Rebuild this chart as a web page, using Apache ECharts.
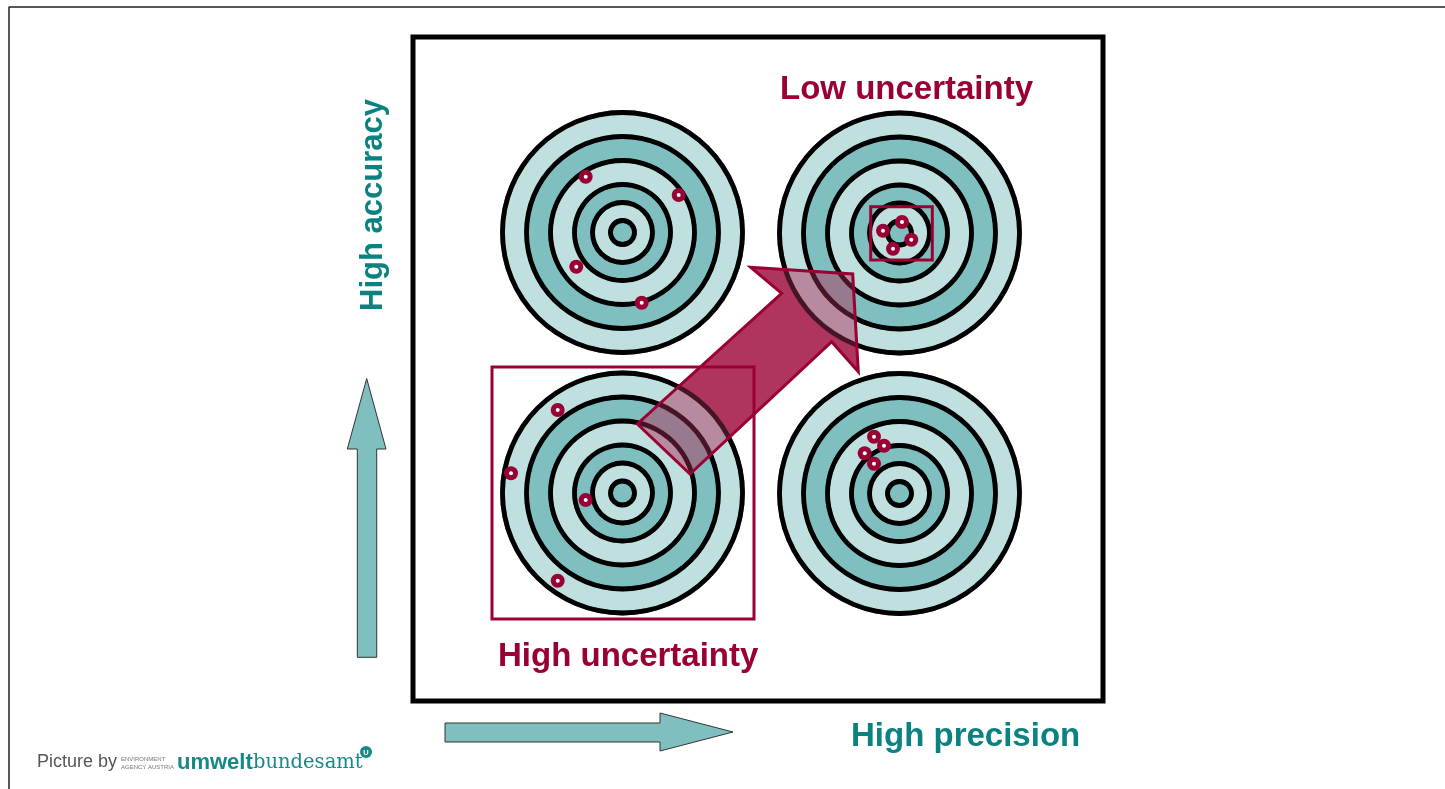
<!DOCTYPE html>
<html><head><meta charset="utf-8">
<script src="https://cdn.jsdelivr.net/npm/echarts/dist/echarts.min.js"></script>
<style>html,body{margin:0;padding:0;background:#fff}#c{width:1445px;height:789px}</style>
</head><body><div id="c"></div>
<script>
// ---- data (diagram coordinates in a 1445 x 789 value space) ----
const targetCenters = [[622.5, 232.5], [899.5, 233], [622.5, 493], [899.5, 493.5]];
const ringRadii = [120, 96, 72, 48, 30, 12];
const bandColors = ['#c0e0df', '#80bfbf', '#c0e0df', '#80bfbf', '#c0e0df', '#80bfbf'];
const hitsTopLeft = [[585.7, 176.7], [678.7, 195], [576.3, 266.7], [641.7, 302.7]];
const hitsTopRight = [[902, 222], [883, 230.7], [911.3, 239.7], [893, 248.7]];
const hitsBottomLeft = [[557.7, 410], [511, 473.3], [585.7, 500], [557.7, 580.7]];
const hitsBottomRight = [[874, 436.7], [884, 445.7], [864.7, 453.3], [874, 463.7]];
const uncertaintyBoxes = [[[870.7, 206.7], [932.3, 260]], [[492, 367], [754, 619]]];
const frameBox = [[413, 37], [1103, 701]];
const pageBorder = [[9, 789], [9, 7], [1445, 7]];
const bigArrow = [[637.3, 424], [690, 474], [831.7, 341.7], [858.3, 371.7], [852.7, 274], [750.7, 267.3], [781.7, 293.3]];
const upArrow = [[366.7, 378.5], [386, 449], [376.7, 449], [376.7, 657.3], [357.3, 657.3], [357.3, 449], [347.3, 449]];
const rightArrow = [[445, 723], [660, 723], [660, 713], [733, 732], [660, 751], [660, 742], [445, 742]];
const labels = {
  low: 'Low uncertainty', high: 'High uncertainty',
  precision: 'High precision', accuracy: 'High accuracy'
};

const CRIMSON = '#990033';
const TEAL_TEXT = '#0a8282';
const RING_W = 4.8;

const chart = echarts.init(document.getElementById('c'), null, {renderer: 'canvas'});

function px(api, r) { return api.size([r, 0])[0]; }

function targetRender(alphaBand, alphaLine, exact) {
  return function (params, api) {
    const c = api.coord([api.value(0), api.value(1)]);
    const half = RING_W / 2;
    const children = [];
    for (let i = 0; i < ringRadii.length; i++) {
      const R = px(api, ringRadii[i]);
      const Rn = i + 1 < ringRadii.length ? px(api, ringRadii[i + 1]) : 0;
      const rOut = exact ? R - half : R;
      const rIn = exact ? (Rn > 0 ? Rn + half : 0) : 0;
      children.push({type: 'ring', shape: {cx: c[0], cy: c[1], r: rOut, r0: rIn},
        style: {fill: bandColors[i], opacity: alphaBand}});
    }
    for (let i = 0; i < ringRadii.length; i++) {
      const R = px(api, ringRadii[i]);
      children.push({type: 'ring', shape: {cx: c[0], cy: c[1], r: R + half, r0: R - half},
        style: {fill: '#000', opacity: alphaLine}});
    }
    return {type: 'group', children};
  };
}

function polyRender(points, style) {
  return function (params, api) {
    return {type: 'polygon', shape: {points: points.map(p => api.coord(p))}, style};
  };
}

const allHits = hitsTopLeft.concat(hitsTopRight, hitsBottomLeft, hitsBottomRight);

const option = {
  animation: false,
  grid: {left: 0, right: 0, top: 0, bottom: 0},
  xAxis: {type: 'value', min: 0, max: 1445, show: false},
  yAxis: {type: 'value', min: 0, max: 789, inverse: true, show: false},
  series: [
    { // page border
      type: 'line', data: pageBorder, symbol: 'none', z: 1,
      lineStyle: {color: '#222', width: 1.5}
    },
    { // frame
      type: 'custom', z: 1, data: [[0, 0]],
      renderItem: function (params, api) {
        const a = api.coord(frameBox[0]), b = api.coord(frameBox[1]);
        return {type: 'rect', shape: {x: a[0], y: a[1], width: b[0] - a[0], height: b[1] - a[1]},
          style: {fill: 'none', stroke: '#000', lineWidth: 5}};
      }
    },
    { // teal arrows
      type: 'custom', z: 2, data: [[0, 0]],
      renderItem: function (params, api) {
        return {type: 'group', children: [
          polyRender(upArrow, {fill: '#80bfbf', stroke: '#333', lineWidth: 1})(params, api),
          polyRender(rightArrow, {fill: '#80bfbf', stroke: '#333', lineWidth: 1})(params, api)
        ]};
      }
    },
    { // targets (opaque)
      type: 'custom', z: 3, data: targetCenters, encode: {x: 0, y: 1},
      renderItem: targetRender(1, 1, false)
    },
    { // big arrow fill
      type: 'custom', z: 4, data: [[0, 0]],
      renderItem: polyRender(bigArrow, {fill: '#b0355e'})
    },
    { // targets again, translucent, so the arrow shows through them
      type: 'custom', z: 5, data: targetCenters, encode: {x: 0, y: 1},
      renderItem: targetRender(0.5, 0.6, true)
    },
    { // big arrow outline
      type: 'custom', z: 6, data: [[0, 0]],
      renderItem: polyRender(bigArrow, {fill: 'none', stroke: CRIMSON, lineWidth: 3, lineJoin: 'miter'})
    },
    { // uncertainty boxes
      type: 'custom', z: 7, data: uncertaintyBoxes.map((b, i) => [i, 0]),
      renderItem: function (params, api) {
        const bx = uncertaintyBoxes[params.dataIndex];
        const a = api.coord(bx[0]), b = api.coord(bx[1]);
        return {type: 'rect', shape: {x: a[0], y: a[1], width: b[0] - a[0], height: b[1] - a[1]},
          style: {fill: 'none', stroke: CRIMSON, lineWidth: 3}};
      }
    },
    { // hits
      type: 'scatter', z: 8, data: allHits, symbol: 'circle', symbolSize: 14,
      itemStyle: {color: CRIMSON, opacity: 1}
    },
    {
      type: 'scatter', z: 9, data: allHits, symbol: 'circle', symbolSize: 4,
      itemStyle: {color: '#fff', opacity: 1}
    }
  ],
  graphic: [
    {type: 'text', z: 20, x: 780, y: 90, style: {text: labels.low, fill: CRIMSON,
      font: 'bold 33px "Liberation Sans", Arial, sans-serif', textVerticalAlign: 'middle'}},
    {type: 'text', z: 20, x: 498, y: 657, style: {text: labels.high, fill: CRIMSON,
      font: 'bold 33px "Liberation Sans", Arial, sans-serif', textVerticalAlign: 'middle'}},
    {type: 'text', z: 20, x: 851, y: 737, style: {text: labels.precision, fill: TEAL_TEXT,
      font: 'bold 33px "Liberation Sans", Arial, sans-serif', textVerticalAlign: 'middle'}},
    {type: 'text', z: 20, x: 373, y: 205, rotation: Math.PI / 2, style: {text: labels.accuracy, fill: TEAL_TEXT,
      font: 'bold 31px "Liberation Sans", Arial, sans-serif', textAlign: 'center', textVerticalAlign: 'middle'}},
    {type: 'text', z: 20, x: 37, y: 762, style: {text: 'Picture by', fill: '#555',
      font: '18px "Liberation Sans", Arial, sans-serif', textVerticalAlign: 'middle'}},
    {type: 'text', z: 20, x: 121, y: 759, style: {text: 'ENVIRONMENT', fill: '#777',
      font: '6px "Liberation Sans", Arial, sans-serif', textVerticalAlign: 'middle'}},
    {type: 'text', z: 20, x: 121, y: 767, style: {text: 'AGENCY AUSTRIA', fill: '#777',
      font: '6px "Liberation Sans", Arial, sans-serif', textVerticalAlign: 'middle'}},
    {type: 'text', z: 20, x: 177, y: 763, style: {text: 'umwelt', fill: '#188787',
      font: 'bold 22px "Liberation Sans", Arial, sans-serif', textVerticalAlign: 'middle'}},
    {type: 'text', z: 20, x: 253, y: 763, style: {text: 'bundesamt', fill: '#188787',
      font: '19.5px "DejaVu Serif", serif', textVerticalAlign: 'middle'}},
    {type: 'circle', z: 20, shape: {cx: 366, cy: 752, r: 6}, style: {fill: '#188787'}},
    {type: 'text', z: 21, x: 366, y: 752.5, style: {text: 'U', fill: '#fff',
      font: 'bold 7.5px "Liberation Sans", Arial, sans-serif', textAlign: 'center', textVerticalAlign: 'middle'}}
  ]
};
chart.setOption(option);
</script></body></html>
